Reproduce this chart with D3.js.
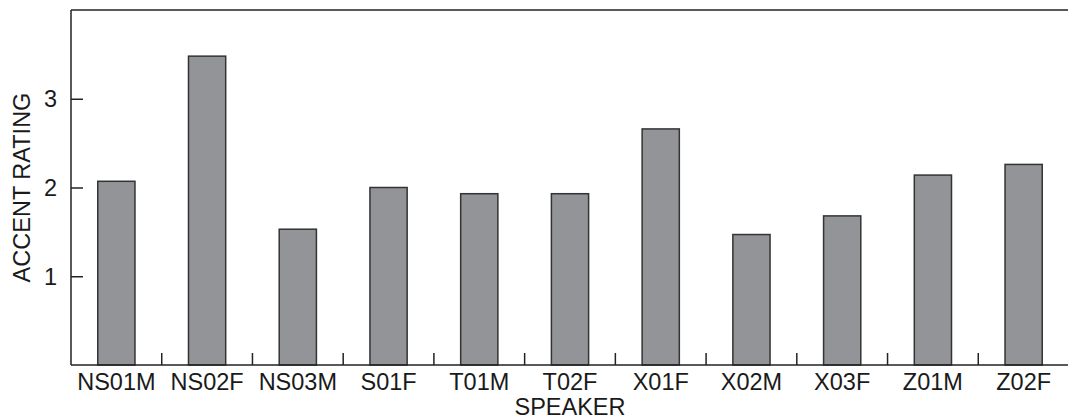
<!DOCTYPE html>
<html lang="en">
<head>
<meta charset="UTF-8" />
<title>Accent rating by speaker</title>
<script src="https://d3js.org/d3.v7.min.js"></script>
<style>
  html, body { margin: 0; padding: 0; background: #fff; }
  svg { display: block; font-family: "Liberation Sans", Arial, sans-serif; }
</style>
</head>
<body>
<svg id="chart" width="1068" height="419"></svg>
<script>
  const speakers = ["NS01M", "NS02F", "NS03M", "S01F", "T01M", "T02F", "X01F", "X02M", "X03F", "Z01M", "Z02F"];
  const ratings  = [2.07, 3.48, 1.53, 2.00, 1.93, 1.93, 2.66, 1.47, 1.68, 2.14, 2.26];
  const yTicks   = [1, 2, 3];

  const data = speakers.map((s, i) => ({ speaker: s, rating: ratings[i] }));

  const svg = d3.select("#chart");
  const margin = { top: 10, right: -1, bottom: 54, left: 71 };
  const W = 1068, H = 419;
  const w = W - margin.left - margin.right;
  const h = H - margin.top - margin.bottom;

  const g = svg.append("g")
    .attr("transform", `translate(${margin.left},${margin.top})`);

  const x = d3.scaleBand()
    .domain(speakers)
    .range([0, w])
    .padding(0);

  const y = d3.scaleLinear()
    .domain([0, 4])
    .range([h, 0]);

  const barW = x.bandwidth() * 0.41;

  // bars
  g.selectAll(".bar")
    .data(data)
    .enter().append("rect")
      .attr("class", "bar")
      .attr("x", d => x(d.speaker) + (x.bandwidth() - barW) / 2)
      .attr("y", d => y(d.rating))
      .attr("width", barW)
      .attr("height", d => h - y(d.rating))
      .attr("fill", "#939498")
      .attr("stroke", "#333")
      .attr("stroke-width", 1.5);

  // y axis, ticks pointing inward
  const yAxis = g.append("g")
    .call(d3.axisRight(y).tickValues(yTicks).tickSize(12).tickFormat(d3.format("d")));
  yAxis.select(".domain").remove();
  yAxis.selectAll("line").attr("stroke", "#222").attr("stroke-width", 1.5);
  yAxis.selectAll("text")
    .attr("x", -14)
    .attr("dy", "0.35em")
    .attr("text-anchor", "end")
    .attr("font-size", "23.5px")
    .attr("fill", "#1a1a1a");

  // x axis: ticks at band boundaries pointing up, labels centred
  const bounds = speakers.slice(1).map(s => x(s));
  g.selectAll(".xtick")
    .data(bounds)
    .enter().append("line")
      .attr("class", "xtick")
      .attr("x1", d => d).attr("x2", d => d)
      .attr("y1", h).attr("y2", h - 12)
      .attr("stroke", "#222")
      .attr("stroke-width", 1.5);

  g.selectAll(".xlabel")
    .data(speakers)
    .enter().append("text")
      .attr("class", "xlabel")
      .attr("x", d => x(d) + x.bandwidth() / 2)
      .attr("y", h + 25)
      .attr("text-anchor", "middle")
      .attr("font-size", "23.5px")
      .attr("fill", "#1a1a1a")
      .text(d => d);

  // frame: left, top, bottom
  g.append("line").attr("x1", 0).attr("x2", 0).attr("y1", 0).attr("y2", h)
    .attr("stroke", "#222").attr("stroke-width", 1.5);
  g.append("line").attr("x1", 0).attr("x2", w).attr("y1", 0).attr("y2", 0)
    .attr("stroke", "#222").attr("stroke-width", 1.5);
  g.append("line").attr("x1", 0).attr("x2", w).attr("y1", h).attr("y2", h)
    .attr("stroke", "#222").attr("stroke-width", 1.5);

  // axis titles
  g.append("text")
    .attr("x", w / 2)
    .attr("y", h + 50)
    .attr("text-anchor", "middle")
    .attr("font-size", "23.5px")
    .attr("fill", "#1a1a1a")
    .text("SPEAKER");

  g.append("text")
    .attr("transform", "rotate(-90)")
    .attr("x", -h / 2)
    .attr("y", -41)
    .attr("text-anchor", "middle")
    .attr("font-size", "23.5px")
    .attr("fill", "#1a1a1a")
    .text("ACCENT RATING");
</script>
</body>
</html>
